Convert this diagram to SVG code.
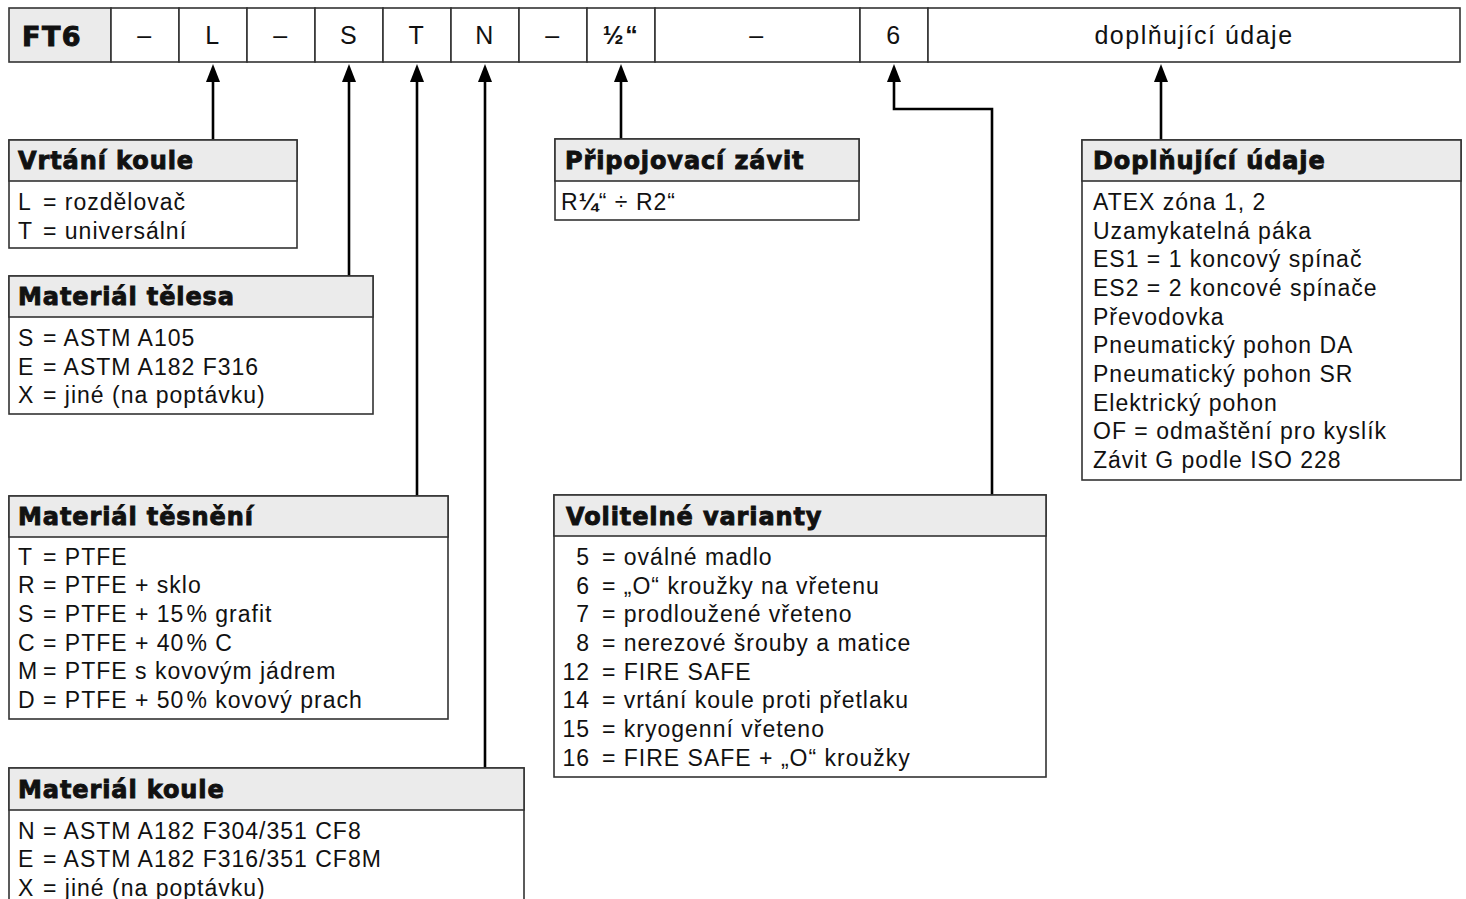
<svg xmlns="http://www.w3.org/2000/svg" width="1466" height="899" viewBox="0 0 1466 899">
<style>
.cell{fill:#fff;stroke:#333;stroke-width:1.6}
.gcell{fill:#ebebeb;stroke:#333;stroke-width:1.6}
.box{fill:#fff;stroke:#333;stroke-width:1.6}
.hdr{fill:#ebebeb;stroke:#333;stroke-width:1.6}
.ht{font-family:"DejaVu Sans","Liberation Sans",sans-serif;font-weight:bold;font-size:24px;letter-spacing:0.9px;fill:#111;stroke:#111;stroke-width:0.9}
.t{font-family:"Liberation Sans",Arial,sans-serif;font-size:23px;letter-spacing:1px;fill:#111}
.bt{font-family:"Liberation Sans",Arial,sans-serif;font-size:25px;letter-spacing:1.5px;fill:#111;text-anchor:middle}
.conn{stroke:#000;stroke-width:2.6;fill:none}
</style>
<defs>
<marker id="arr" markerUnits="userSpaceOnUse" markerWidth="18" markerHeight="14" refX="10" refY="7" orient="auto">
<path d="M0,0 L18,7 L0,14 z" fill="#000"/>
</marker>
</defs>
<rect width="1466" height="899" fill="#fff"/>

<g id="code-bar">
<rect class="gcell" x="9" y="8" width="102" height="54"/>
<text x="22" y="46" style="font-family:'DejaVu Sans',sans-serif;font-weight:bold;font-size:27px;letter-spacing:1.5px;fill:#111;stroke:#111;stroke-width:1">FT6</text>
<rect class="cell" x="111" y="8" width="68" height="54"/>
<text class="bt" x="145" y="44">–</text>
<rect class="cell" x="179" y="8" width="68" height="54"/>
<text class="bt" x="213" y="44">L</text>
<rect class="cell" x="247" y="8" width="68" height="54"/>
<text class="bt" x="281" y="44">–</text>
<rect class="cell" x="315" y="8" width="68" height="54"/>
<text class="bt" x="349" y="44">S</text>
<rect class="cell" x="383" y="8" width="68" height="54"/>
<text class="bt" x="417" y="44">T</text>
<rect class="cell" x="451" y="8" width="68" height="54"/>
<text class="bt" x="485" y="44">N</text>
<rect class="cell" x="519" y="8" width="68" height="54"/>
<text class="bt" x="553" y="44">–</text>
<rect class="cell" x="587" y="8" width="68" height="54"/>
<text class="bt" x="621" y="44" style="font-weight:bold">½“</text>
<rect class="cell" x="655" y="8" width="205" height="54"/>
<text class="bt" x="757" y="44">–</text>
<rect class="cell" x="860" y="8" width="68" height="54"/>
<text class="bt" x="894" y="44">6</text>
<rect class="cell" x="928" y="8" width="532" height="54"/>
<text class="bt" x="1194" y="44">doplňující údaje</text>
</g>

<g id="connectors">
<path class="conn" d="M213 140 V72" marker-end="url(#arr)"/>
<path class="conn" d="M349 276 V72" marker-end="url(#arr)"/>
<path class="conn" d="M417 496 V72" marker-end="url(#arr)"/>
<path class="conn" d="M485 768 V72" marker-end="url(#arr)"/>
<path class="conn" d="M621 139 V72" marker-end="url(#arr)"/>
<path class="conn" d="M992 495 V109 H894 V72" marker-end="url(#arr)"/>
<path class="conn" d="M1161 140 V72" marker-end="url(#arr)"/>
</g>

<g id="vrtani-koule">
<rect class="box" x="9" y="140" width="288" height="108"/>
<rect class="hdr" x="9" y="140" width="288" height="41"/>
<text class="ht" x="18" y="169">Vrtání koule</text>
<text class="t" x="18" y="210">L</text><text class="t" x="43" y="210">= rozdělovač</text>
<text class="t" x="18" y="239">T</text><text class="t" x="43" y="239">= universální</text>
</g>

<g id="material-telesa">
<rect class="box" x="9" y="276" width="364" height="138"/>
<rect class="hdr" x="9" y="276" width="364" height="41"/>
<text class="ht" x="18" y="305">Materiál tělesa</text>
<text class="t" x="18" y="346">S</text><text class="t" x="43" y="346">= ASTM A105</text>
<text class="t" x="18" y="375">E</text><text class="t" x="43" y="375">= ASTM A182 F316</text>
<text class="t" x="18" y="403">X</text><text class="t" x="43" y="403">= jiné (na poptávku)</text>
</g>

<g id="material-tesneni">
<rect class="box" x="9" y="496" width="439" height="223"/>
<rect class="hdr" x="9" y="496" width="439" height="41"/>
<text class="ht" x="18" y="525">Materiál těsnění</text>
<text class="t" x="18" y="565">T</text><text class="t" x="43" y="565">= PTFE</text>
<text class="t" x="18" y="593">R</text><text class="t" x="43" y="593">= PTFE + sklo</text>
<text class="t" x="18" y="622">S</text><text class="t" x="43" y="622">= PTFE + 15<tspan dx="2">%</tspan> grafit</text>
<text class="t" x="18" y="651">C</text><text class="t" x="43" y="651">= PTFE + 40<tspan dx="2">%</tspan> C</text>
<text class="t" x="18" y="679">M</text><text class="t" x="43" y="679">= PTFE s kovovým jádrem</text>
<text class="t" x="18" y="708">D</text><text class="t" x="43" y="708">= PTFE + 50<tspan dx="2">%</tspan> kovový prach</text>
</g>

<g id="material-koule">
<rect class="box" x="9" y="768" width="515" height="140"/>
<rect class="hdr" x="9" y="768" width="515" height="42"/>
<text class="ht" x="18" y="798">Materiál koule</text>
<text class="t" x="18" y="839">N</text><text class="t" x="43" y="839">= ASTM A182 F304/351 CF8</text>
<text class="t" x="18" y="867">E</text><text class="t" x="43" y="867">= ASTM A182 F316/351 CF8M</text>
<text class="t" x="18" y="896">X</text><text class="t" x="43" y="896">= jiné (na poptávku)</text>
</g>

<g id="pripojovaci-zavit">
<rect class="box" x="555" y="139" width="304" height="81"/>
<rect class="hdr" x="555" y="139" width="304" height="42"/>
<text class="ht" x="565" y="169">Připojovací závit</text>
<text class="t" x="561" y="210">R<tspan font-weight="bold">¼</tspan>“ ÷ R2“</text>
</g>

<g id="volitelne-varianty">
<rect class="box" x="554" y="495" width="492" height="282"/>
<rect class="hdr" x="554" y="495" width="492" height="41"/>
<text class="ht" x="566" y="525">Volitelné varianty</text>
<g class="t">
<text x="590" y="565" text-anchor="end">5</text><text x="602" y="565">= oválné madlo</text>
<text x="590" y="594" text-anchor="end">6</text><text x="602" y="594">= „O“ kroužky na vřetenu</text>
<text x="590" y="622" text-anchor="end">7</text><text x="602" y="622">= prodloužené vřeteno</text>
<text x="590" y="651" text-anchor="end">8</text><text x="602" y="651">= nerezové šrouby a matice</text>
<text x="590" y="680" text-anchor="end">12</text><text x="602" y="680">= FIRE SAFE</text>
<text x="590" y="708" text-anchor="end">14</text><text x="602" y="708">= vrtání koule proti přetlaku</text>
<text x="590" y="737" text-anchor="end">15</text><text x="602" y="737">= kryogenní vřeteno</text>
<text x="590" y="766" text-anchor="end">16</text><text x="602" y="766">= FIRE SAFE + „O“ kroužky</text>
</g>
</g>

<g id="doplnujici-udaje">
<rect class="box" x="1082" y="140" width="379" height="340"/>
<rect class="hdr" x="1082" y="140" width="379" height="41"/>
<text class="ht" x="1093" y="169">Doplňující údaje</text>
<g class="t">
<text x="1093" y="210">ATEX zóna 1, 2</text>
<text x="1093" y="239">Uzamykatelná páka</text>
<text x="1093" y="267">ES1 = 1 koncový spínač</text>
<text x="1093" y="296">ES2 = 2 koncové spínače</text>
<text x="1093" y="325">Převodovka</text>
<text x="1093" y="353">Pneumatický pohon DA</text>
<text x="1093" y="382">Pneumatický pohon SR</text>
<text x="1093" y="411">Elektrický pohon</text>
<text x="1093" y="439">OF = odmaštění pro kyslík</text>
<text x="1093" y="468">Závit G podle ISO 228</text>
</g>
</g>
</svg>
